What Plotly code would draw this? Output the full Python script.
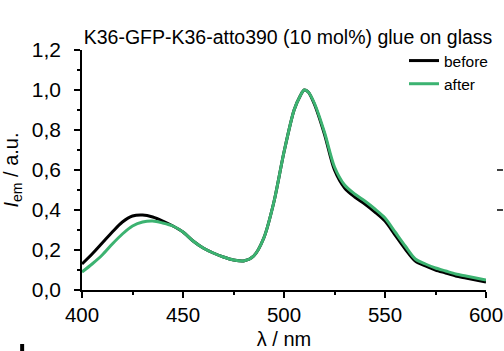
import plotly.graph_objects as go

wavelength = [400, 405, 410, 415, 420, 425, 430, 435, 440, 445, 450, 455, 460, 465, 470,
              475, 480, 485, 490, 495, 500, 505, 508, 510, 512, 515, 520, 525, 530, 535,
              540, 545, 550, 555, 560, 565, 570, 575, 580, 585, 590, 595, 600]
before = [0.13, 0.18, 0.235, 0.29, 0.34, 0.37, 0.375, 0.365, 0.345, 0.32, 0.29, 0.245, 0.21,
          0.185, 0.165, 0.15, 0.145, 0.17, 0.26, 0.44, 0.69, 0.90, 0.97, 1.00, 0.99, 0.93,
          0.78, 0.60, 0.51, 0.465, 0.43, 0.39, 0.345, 0.275, 0.205, 0.145, 0.12, 0.10, 0.085,
          0.07, 0.06, 0.05, 0.04]
after = [0.09, 0.13, 0.175, 0.23, 0.28, 0.32, 0.34, 0.345, 0.335, 0.32, 0.29, 0.245, 0.21,
         0.185, 0.165, 0.15, 0.145, 0.17, 0.26, 0.44, 0.69, 0.90, 0.97, 1.00, 0.99, 0.935,
         0.79, 0.615, 0.525, 0.48, 0.445, 0.405, 0.36, 0.29, 0.22, 0.155, 0.13, 0.11,
         0.095, 0.08, 0.07, 0.06, 0.05]

fig = go.Figure()
fig.add_trace(go.Scatter(x=wavelength, y=before, name="before", mode="lines",
                         line=dict(color="black", width=3, shape="spline", smoothing=0.8)))
fig.add_trace(go.Scatter(x=wavelength, y=after, name="after", mode="lines",
                         line=dict(color="#3cb371", width=3, shape="spline", smoothing=0.8)))

font_family = "Liberation Sans, Arial, sans-serif"
fig.update_layout(
    width=504, height=351,
    margin=dict(l=82, r=17, t=50, b=61),
    paper_bgcolor="white", plot_bgcolor="white",
    separators=",.",
    font=dict(family=font_family, color="black", size=20),
    title=dict(text="K36-GFP-K36-atto390 (10 mol%) glue on glass",
               font=dict(size=19.5, color="black"),
               x=288/504, xanchor="center", xref="container",
               y=1-37/351, yanchor="middle", yref="container"),
    legend=dict(x=0.795, y=1.025, xanchor="left", yanchor="top",
                font=dict(size=15.5), bgcolor="rgba(0,0,0,0)",
                tracegroupgap=0, itemwidth=30),
    showlegend=True,
    shapes=[
        # fragments of the neighbouring panels at the crop edges
        dict(type="line", xref="paper", yref="paper",
             x0=(498-82)/405, x1=(504-82)/405, y0=(290-170)/240, y1=(290-170)/240,
             line=dict(color="black", width=1.5)),
        dict(type="line", xref="paper", yref="paper",
             x0=(498-82)/405, x1=(504-82)/405, y0=(290-210)/240, y1=(290-210)/240,
             line=dict(color="black", width=1.5)),
        dict(type="rect", xref="paper", yref="paper",
             x0=(20-82)/405, x1=(24-82)/405, y0=(290-351)/240, y1=(290-344)/240,
             fillcolor="black", line=dict(width=0)),
    ],
)
fig.update_xaxes(range=[400, 600], tickvals=[400, 450, 500, 550, 600],
                 automargin=False,
                 showline=True, linecolor="black", linewidth=1.5,
                 ticks="outside", ticklen=6, tickwidth=1.5, tickcolor="black",
                 minor=dict(ticks="outside", ticklen=3, dtick=25, tickcolor="black", tickwidth=1.5),
                 showgrid=False, zeroline=False,
                 tickfont=dict(size=20.5),
                 title=dict(text="λ / nm", font=dict(size=20), standoff=7))
fig.update_yaxes(range=[0, 1.2], dtick=0.2, tickformat=".1f",
                 automargin=False,
                 showline=True, linecolor="black", linewidth=1.5,
                 ticks="outside", ticklen=6, tickwidth=1.5, tickcolor="black",
                 minor=dict(ticks="outside", ticklen=3, dtick=0.1, tickcolor="black", tickwidth=1.5),
                 showgrid=False, zeroline=False,
                 tickfont=dict(size=21), ticklabelstandoff=9,
                 title=dict(text="<i>I</i><sub>em</sub> / a.u.", font=dict(size=20), standoff=10))

fig.write_html("out.html")
